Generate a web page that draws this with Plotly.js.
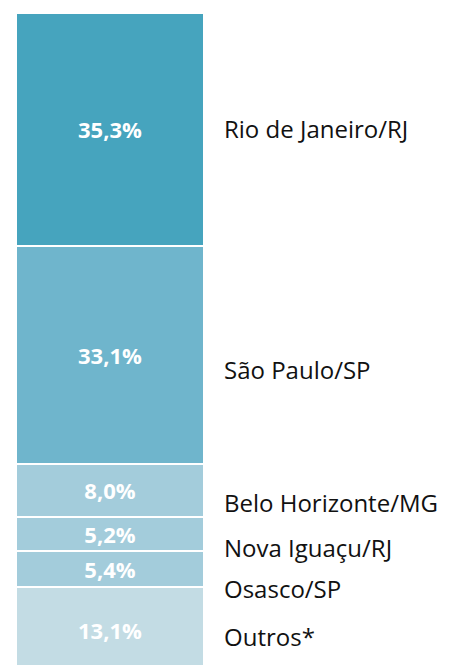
<!DOCTYPE html>
<html><head><meta charset="utf-8">
<script src="https://cdn.plot.ly/plotly-3.0.1.min.js"></script>
<style>html,body{margin:0;padding:0;background:#fff;}#chart{width:462px;height:665px;}</style>
</head><body><div id="chart"></div>
<script>
// Data, bottom to top of the stacked bar
const cities = ["Outros*", "Osasco/SP", "Nova Iguaçu/RJ", "Belo Horizonte/MG", "São Paulo/SP", "Rio de Janeiro/RJ"];
const shares = [13.1, 5.4, 5.2, 8.0, 33.1, 35.3];
const barLabels = ["13,1%", "5,4%", "5,2%", "8,0%", "33,1%", "35,3%"];

// styles
const colors = ["#C3DCE4", "#A3CCDB", "#A3CCDB", "#A3CCDB", "#6FB5CC", "#46A4BE"];
const labelShift = [-7, -20, -14, -12, -15, 1];

const traces = cities.map((c, i) => ({
  type: "bar", x: [0], y: [shares[i]], name: c, width: 1,
  text: [barLabels[i]], textposition: "inside", insidetextanchor: "middle",
  textangle: 0, constraintext: "none",
  textfont: {family: "'Open Sans', sans-serif", size: 22, color: "#ffffff", weight: 700},
  marker: {color: colors[i], line: {color: "#ffffff", width: 2}},
  hoverinfo: "skip"
}));

let cum = 0;
const annotations = cities.map((c, i) => {
  const mid = cum + shares[i] / 2; cum += shares[i];
  return {x: 0.597, y: mid, xref: "x", yref: "y", text: c, showarrow: false,
    xanchor: "left", yanchor: "middle", yshift: labelShift[i],
    font: {family: "'Open Sans', sans-serif", size: 24, color: "#111111"}};
});

const layout = {
  width: 462, height: 665, barmode: "stack", showlegend: false,
  margin: {l: 16, r: 0, t: 13, b: 0},
  paper_bgcolor: "#fff", plot_bgcolor: "#fff",
  xaxis: {range: [-0.5, 1.872], visible: false, fixedrange: true},
  yaxis: {range: [1.2, 100.1], visible: false, fixedrange: true},
  annotations: annotations
};
Plotly.newPlot("chart", traces, layout, {displayModeBar: false, staticPlot: true});
</script></body></html>
